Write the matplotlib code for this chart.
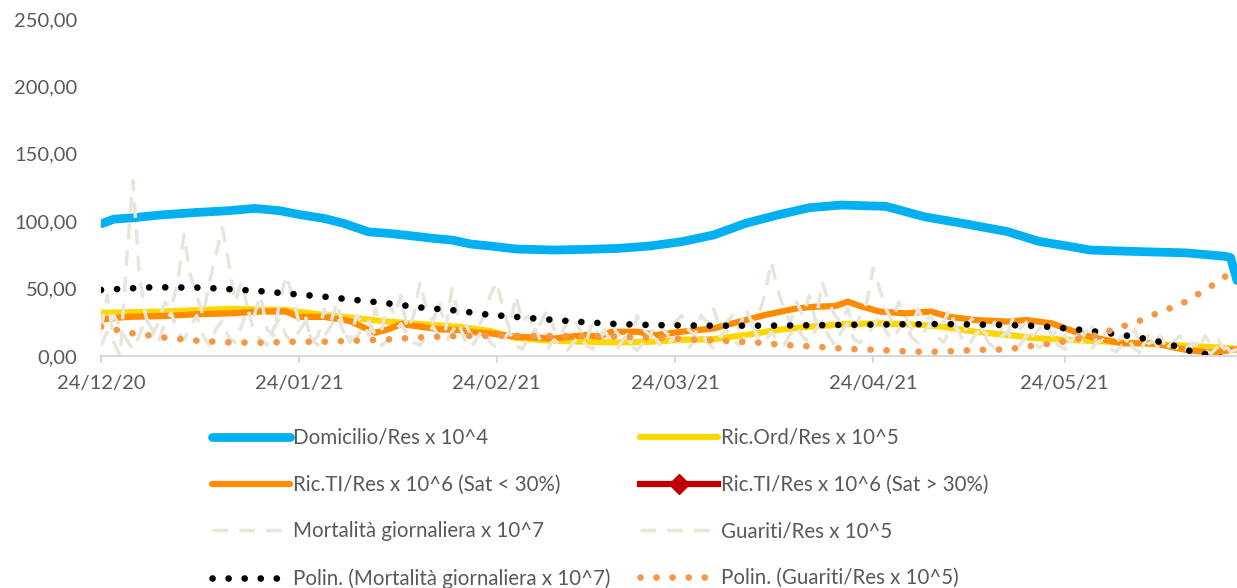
import numpy as np
import matplotlib.pyplot as plt
import matplotlib.dates as mdates
from matplotlib.ticker import FuncFormatter, MultipleLocator

plt.rcParams['font.family'] = ['Lato', 'DejaVu Sans']

start = np.datetime64('2020-12-24')
n_days = 178

# Domicilio/Res x 10^4 (day offset from 24/12/20, value)
dom_days = [0, 2, 5, 9, 15, 20, 24, 28, 31, 35, 38, 42, 45, 48, 52, 55, 58, 61, 65, 71,
            76, 81, 86, 91, 96, 101, 106, 111, 116, 123, 129, 135, 142, 147, 152, 155,
            163, 170, 176, 177, 178]
dom_vals = [98, 101.5, 102.5, 104.5, 106.5, 107.8, 109.5, 107.8, 105, 102, 98.4, 92, 91,
            89.5, 87.3, 86, 83, 81.6, 79.4, 78.6, 79.1, 79.8, 81.6, 84.8, 89.8, 98.4,
            104.6, 110, 112, 111, 103.3, 98.4, 92.3, 85, 81.1, 78.6, 77.4, 76.5, 74, 73, 56]

# Ric.Ord/Res x 10^5
ord_days = [0, 10, 20, 29, 35, 40, 45, 50, 56, 61, 65, 70, 76, 81, 86, 91, 96, 101, 106,
            111, 117, 122, 127, 132, 137, 142, 147, 152, 163, 178]
ord_vals = [32, 33, 35, 34, 30.4, 28, 25.5, 23.7, 21.7, 18.5, 13.5, 11.5, 10.6, 10, 10.6,
            12, 12.5, 15.6, 19.3, 21.8, 23.7, 24.2, 23.5, 21.8, 18, 15.6, 13, 11.9, 9.4, 5.5]

# Ric.TI/Res x 10^6 (Sat < 30%)
ti_days = [0, 4, 10, 15, 20, 25, 29, 31, 35, 39, 42, 43, 45, 47, 50, 53, 56, 59, 61, 65,
           71, 76, 78, 80, 84, 87, 91, 96, 98, 104, 109, 112, 115, 117, 119, 122, 126,
           130, 133, 137, 142, 145, 149, 152, 155, 160, 165, 170, 174, 178]
ti_vals = [27, 29, 29.7, 31, 31.6, 33, 33, 29, 29, 26, 19.3, 17.3, 19.8, 23.7, 21.8, 19.8,
           19.3, 17.3, 16.8, 14.3, 13, 15.6, 14.3, 18, 18, 15.6, 18, 20.5, 23, 30.4, 35.3,
           36.6, 37, 40.3, 37, 33, 31.6, 33, 29, 26.7, 25.5, 26.7, 24.2, 19, 14.3, 9.4,
           9.4, 4.5, 2.5, 5]

# Ric.TI/Res x 10^6 (Sat > 30%) - no days above threshold
sat_days = []
sat_vals = []

# Mortalita giornaliera x 10^7, daily
mort_vals = [20, 45, 10, 0, 70, 130, 60, 30, 15, 25,
             40, 35, 55, 90, 60, 45, 30, 55, 75, 95,
             70, 40, 55, 35, 30, 45, 20, 15, 40, 60,
             45, 25, 30, 10, 15, 35, 25, 40, 20, 10,
             30, 25, 15, 35, 20, 40, 30, 45, 20, 30,
             55, 35, 25, 40, 20, 50, 30, 25, 15, 20,
             30, 45, 55, 35, 20, 45, 25, 30, 20, 25,
             35, 20, 15, 25, 30, 20, 10, 25, 15, 20,
             25, 15, 20, 10, 30, 20, 15, 25, 20, 15,
             25, 30, 20, 15, 30, 25, 35, 20, 25, 30,
             20, 35, 25, 30, 45, 70, 50, 35, 25, 40,
             30, 45, 25, 55, 40, 30, 25, 35, 20, 30,
             40, 65, 50, 35, 25, 40, 30, 20, 35, 25,
             30, 20, 25, 35, 20, 15, 25, 30, 20, 15,
             25, 20, 15, 30, 20, 25, 15, 20, 25, 15,
             20, 15, 10, 20, 15, 25, 10, 15, 20, 10,
             15, 10, 20, 5, 15, 10, 15, 5, 10, 15,
             5, 10, 5, 15, 8, 12, 5, 10, 8]

# Guariti/Res x 10^5, daily
guar_vals = [8, 18, 30, 22, 12, 5, 15, 28, 20, 10,
             25, 32, 18, 12, 22, 30, 15, 8, 20, 26,
             14, 10, 22, 35, 18, 12, 8, 20, 28, 15,
             10, 18, 25, 12, 8, 15, 22, 30, 18, 10,
             14, 20, 26, 15, 8, 12, 18, 24, 16, 10,
             8, 15, 22, 14, 10, 18, 25, 12, 6, 14,
             20, 10, 6, 12, 18, 8, 5, 14, 20, 10,
             6, 12, 8, 4, 10, 15, 8, 5, 12, 18,
             10, 6, 14, 8, 4, 10, 16, 12, 6, 10,
             14, 8, 5, 12, 18, 10, 6, 14, 20, 12,
             8, 15, 22, 14, 10, 18, 12, 8, 16, 22,
             14, 10, 20, 26, 15, 8, 18, 24, 12, 10,
             16, 22, 30, 18, 12, 20, 26, 14, 10, 18,
             24, 15, 10, 18, 22, 12, 8, 16, 20, 10,
             6, 14, 18, 10, 8, 15, 12, 6, 10, 14,
             8, 5, 12, 15, 8, 4, 10, 12, 6, 3,
             8, 12, 5, 2, 9, 11, 4, 6, 10, 3,
             2, 8, 10, 4, 2, 7, 9, 3, 5]

# polynomial trend of mortality
pm_days = [0, 8, 16, 24, 30, 35, 40, 45, 50, 56, 60, 65, 71, 76, 81, 86, 95, 105, 115,
           125, 132, 142, 147, 152, 157, 162, 167, 171, 174, 176]
pm_vals = [49, 51, 50.7, 48.5, 46, 44, 41.5, 39, 36, 33.6, 31, 29, 26.7, 25, 23.7, 23,
           22.5, 22.5, 23, 23.5, 23.7, 23, 22.2, 20.2, 17.5, 14.3, 9.4, 3.2, 0.7, -2]

# polynomial trend of recovered
pg_days = [0, 3, 5, 8, 10, 13, 15, 20, 25, 30, 35, 40, 45, 50, 56, 60, 70, 76, 81, 86,
           90, 92, 97, 103, 107, 112, 117, 122, 127, 132, 137, 142, 145, 147, 150, 152,
           155, 157, 159, 162, 164, 166, 169, 171, 173, 175, 177]
pg_vals = [21.8, 18.8, 16.8, 15, 13.6, 12.3, 11.4, 10.1, 9.9, 10.6, 10.6, 11.4, 12.3,
           13.8, 14.8, 15, 15, 14.8, 14.3, 13.6, 13, 12.3, 11.4, 9.9, 8.2, 6.9, 5.2, 4.5,
           3.2, 3.2, 4.5, 4.9, 6.9, 8.2, 9.9, 11.9, 14.3, 16.8, 20.5, 24.7, 28.5, 33,
           37.8, 43.3, 49, 55, 61.8]


def to_dates(days):
    return start + np.array(days, dtype=int).astype('timedelta64[D]')


daily = list(range(len(mort_vals)))
grey = '#E8E6DA'
txt = '#595959'

fig = plt.figure(figsize=(12.37, 5.88), dpi=100)
ax = fig.add_axes([101 / 1237, 232 / 588, 1136 / 1237, 337 / 588])

round_kw = dict(solid_capstyle='round', solid_joinstyle='round')
dot_kw = dict(lw=4.8, linestyle=(0, (0.01, 2.4)), dash_capstyle='round')
dash_kw = dict(lw=2.5, linestyle=(0, (4.5, 3.2)))

l_dom, = ax.plot(to_dates(dom_days), dom_vals, color='#00B0F0', lw=6.3, **round_kw,
                 label='Domicilio/Res x 10^4')
l_ord, = ax.plot(to_dates(ord_days), ord_vals, color='#FFD700', lw=4.5, **round_kw,
                 label='Ric.Ord/Res x 10^5')
l_ti, = ax.plot(to_dates(ti_days), ti_vals, color='#FF8C00', lw=4.5, **round_kw,
                label='Ric.TI/Res x 10^6 (Sat < 30%)')
l_sat, = ax.plot(to_dates(sat_days), sat_vals, color='#C00000', lw=4.5, marker='D',
                 markersize=10, label='Ric.TI/Res x 10^6 (Sat > 30%)')
l_mort, = ax.plot(to_dates(daily), mort_vals, color=grey, **dash_kw,
                  label='Mortalità giornaliera x 10^7')
l_guar, = ax.plot(to_dates(daily), guar_vals, color=grey, **dash_kw,
                  label='Guariti/Res x 10^5')
l_pm, = ax.plot(to_dates(pm_days), pm_vals, color='black', **dot_kw,
                label='Polin. (Mortalità giornaliera x 10^7)')
l_pg, = ax.plot(to_dates(pg_days), pg_vals, color='#F79646', **dot_kw,
                label='Polin. (Guariti/Res x 10^5)')

ax.set_xlim(start, start + np.timedelta64(n_days, 'D'))
ax.set_ylim(0, 250)
ax.yaxis.set_major_locator(MultipleLocator(50))
ax.yaxis.set_major_formatter(FuncFormatter(lambda v, p: f'{v:.2f}'.replace('.', ',')))
ax.xaxis.set_major_locator(mdates.MonthLocator(bymonthday=24))
ax.xaxis.set_major_formatter(mdates.DateFormatter('%d/%m/%y'))

for s in ['top', 'right', 'left']:
    ax.spines[s].set_visible(False)
ax.spines['bottom'].set_color('#D9D9D9')
ax.spines['bottom'].set_linewidth(1.5)
ax.tick_params(axis='x', colors='#D9D9D9', labelcolor=txt, labelsize=14.5,
               length=5, width=1.5, pad=9)
ax.tick_params(axis='y', length=0, labelcolor=txt, labelsize=14.5, pad=17)

leg_kw = dict(loc='upper left', frameon=False, fontsize=14.8, handlelength=3.8,
              handletextpad=0.15, labelspacing=1.3, borderpad=0, borderaxespad=0,
              labelcolor=txt)
col1 = [l_dom, l_ti, l_mort, l_pm]
col2 = [l_ord, l_sat, l_guar, l_pg]
fig.legend(col1, [h.get_label() for h in col1],
           bbox_to_anchor=(212 / 1237, 1 - 428 / 588), **leg_kw)
fig.legend(col2, [h.get_label() for h in col2],
           bbox_to_anchor=(640 / 1237, 1 - 428 / 588), **leg_kw)

fig.savefig('out.png', dpi=100)
